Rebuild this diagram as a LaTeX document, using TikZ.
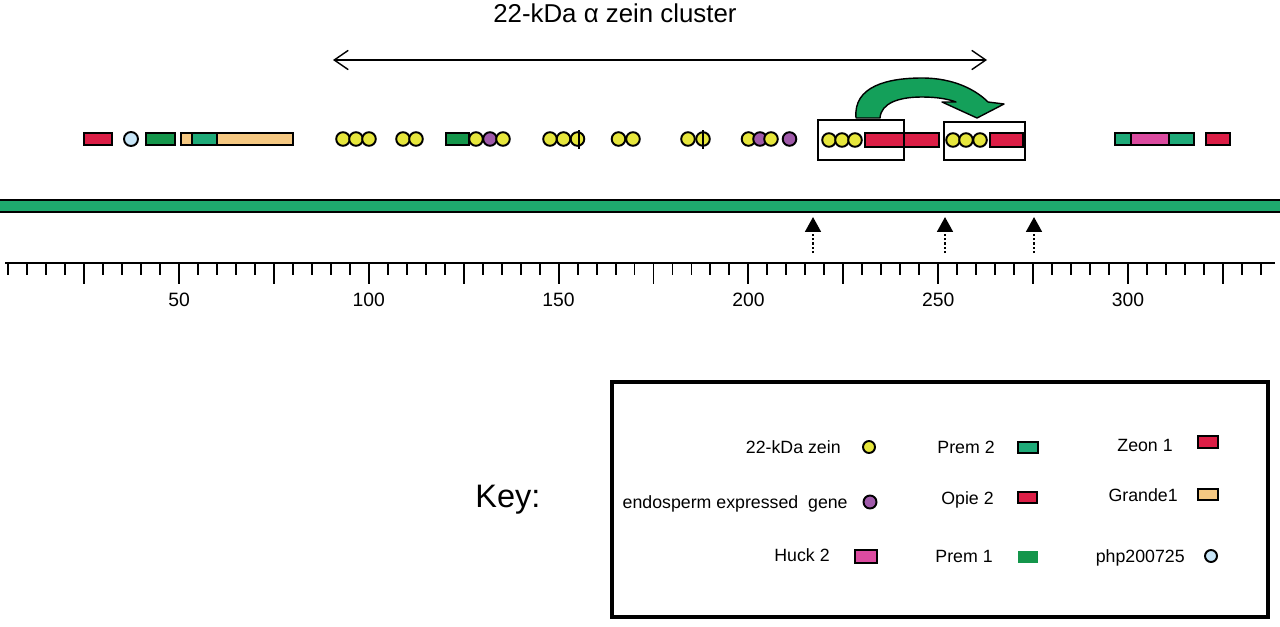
\documentclass[tikz,border=0pt]{standalone}
\usepackage{fontspec}
\setmainfont{Liberation Sans}
\usetikzlibrary{arrows.meta}
\definecolor{zeinyellow}{HTML}{E6E63C}
\definecolor{egpurple}{HTML}{A05AAA}
\definecolor{opiered}{HTML}{DC1E46}
\definecolor{grandetan}{HTML}{F5C882}
\definecolor{huckpink}{HTML}{DC4BA0}
\definecolor{phpblue}{HTML}{C8E6F8}
\definecolor{premtwo}{HTML}{1EAA78}
\definecolor{premone}{HTML}{14964B}
\definecolor{chrgreen}{HTML}{1EAA6E}
\definecolor{arrowgreen}{HTML}{14A05A}
\begin{document}
\begin{tikzpicture}[x=0.02cm, y=-0.02cm,
  gene/.style={draw=black, line width=1.1pt},
  dupbox/.style={draw=black, line width=0.9pt},
  tick/.style={line width=1.1pt},
  hit/.style={line width=1.3pt, dash pattern=on 1.2pt off 1.2pt, -{Triangle[length=8.5pt,width=9pt]}},
  keylbl/.style={font=\fontsize{10.1}{12}\selectfont, inner sep=0pt, anchor=east, text height=7.2pt, text depth=0pt},
  scalelbl/.style={font=\fontsize{11}{13}\selectfont, inner sep=0pt}]
\useasboundingbox (0,0) rectangle (1280,626);

% Title and cluster extent
\node[font=\fontsize{14.7}{17}\selectfont, anchor=base west, inner sep=0pt] (title) at (493,22) {22-kDa α zein cluster};
\coordinate (cl-l) at (333,60);
\coordinate (cl-r) at (987,60);
\draw[line width=0.8pt, {Straight Barb[length=8pt,width=11pt]}-{Straight Barb[length=8pt,width=11pt]}] (cl-l) -- (cl-r);

% Left flank
\draw[gene, fill=opiered] (84,133) rectangle (112,145);
\draw[gene, fill=phpblue] (131,139) circle (7);
\draw[gene, fill=premone] (146,133) rectangle (175,145);
\draw[gene, fill=grandetan] (181,133) rectangle (293,145);
\draw[gene, fill=premtwo] (192,133) rectangle (217,145);

% Zein cluster
\draw[gene, fill=premone] (446,133) rectangle (469,145);
\foreach \x/\c in {343/zeinyellow, 356/zeinyellow, 369/zeinyellow, 403/zeinyellow, 416/zeinyellow,
    476/zeinyellow, 490/egpurple, 503/zeinyellow, 550/zeinyellow, 563.5/zeinyellow, 577.5/zeinyellow,
    618.5/zeinyellow, 633/zeinyellow, 688/zeinyellow, 703/zeinyellow,
    748.5/zeinyellow, 760/egpurple, 771/zeinyellow, 789.5/egpurple}
  \draw[gene, fill=\c] (\x,139) circle (6.8);
\draw[line width=1pt] (579,130) -- (579,149);
\draw[line width=1pt] (703,130) -- (703,149);

% Duplicated segment
\draw[gene, fill=opiered] (865,133) rectangle (939,147);
\foreach \x in {829,842,855} \draw[gene, fill=zeinyellow] (\x,140) circle (6.8);
\draw[dupbox] (818,120) rectangle (904,160);
\draw[gene, fill=opiered] (990,133) rectangle (1023,147);
\foreach \x in {953,966,980} \draw[gene, fill=zeinyellow] (\x,140) circle (6.8);
\draw[dupbox] (944,122) rectangle (1025,160);
\draw[fill=arrowgreen, line width=0.8pt, line join=round]
  (856,118) .. controls (853,86) and (888,78) .. (922,78)
  .. controls (954,78) and (976,90) .. (988,102)
  -- (1004,104) -- (977,118) -- (942,102) -- (956,102)
  .. controls (948,99) and (937,97) .. (922,97)
  .. controls (899,97) and (881,103) .. (880,118) -- cycle;

% Right flank
\draw[gene, fill=premtwo] (1115,133) rectangle (1194,145);
\draw[gene, fill=huckpink] (1131,133) rectangle (1169,145);
\draw[gene, fill=opiered] (1206,133) rectangle (1230,145);

% Chromosome
\fill[chrgreen] (0,200) rectangle (1280,212);
\draw[line width=1.1pt] (0,200) -- (1280,200) (0,212) -- (1280,212);
\foreach \x [count=\i] in {813,945,1034} {
  \coordinate (hit\i) at (\x,217);
  \coordinate (foot\i) at (\x,253);
  \draw[hit] (foot\i) -- (hit\i);
}

% Scale in kb
\draw[line width=0.9pt] (5,263) -- (1275,263);
\foreach \u in {5,10,...,335} {
  \pgfmathtruncatemacro\r{mod(\u,25)}
  \ifnum\r=0
    \draw[tick] ({-10.8+3.796*\u},263) -- ++(0,21);
  \else
    \draw[tick] ({-10.8+3.796*\u},263) -- ++(0,12);
  \fi
}
\foreach \u in {50,100,...,300}
  \node[scalelbl] (s\u) at ({-10.8+3.796*\u},300) {\u};

% Key
\node[font=\fontsize{18.5}{22}\selectfont, anchor=west, inner sep=0pt] (key) at (475,500) {Key:};
\draw[line width=2.3pt] (612,382) rectangle (1268,617);
\node[keylbl] (k-zein) at (841,447) {22-kDa zein};
\draw[gene, fill=zeinyellow] (869,447) circle (6);
\node[keylbl] (k-eg) at (848,502) {endosperm expressed\ \ gene};
\draw[gene, fill=egpurple] (870,502) circle (6.5);
\node[keylbl] (k-huck) at (830,555) {Huck 2};
\draw[gene, fill=huckpink] (855,550) rectangle (877,563);
\node[keylbl] (k-prem2) at (995,447) {Prem 2};
\draw[gene, fill=premtwo] (1018,442) rectangle (1038,453);
\node[keylbl] (k-opie) at (994,498) {Opie 2};
\draw[gene, fill=opiered] (1018,492) rectangle (1037,503);
\node[keylbl] (k-prem1) at (993,556) {Prem 1};
\fill[premone] (1018,551) rectangle (1038,563);
\node[keylbl] (k-zeon) at (1173,445) {Zeon 1};
\draw[gene, fill=opiered] (1198,436) rectangle (1218,448);
\node[keylbl] (k-grande) at (1178,495) {Grande1};
\draw[gene, fill=grandetan] (1198,489) rectangle (1218,500);
\node[keylbl] (k-php) at (1185,556) {php200725};
\draw[gene, fill=phpblue] (1211,556) circle (6);
\end{tikzpicture}
\end{document}
